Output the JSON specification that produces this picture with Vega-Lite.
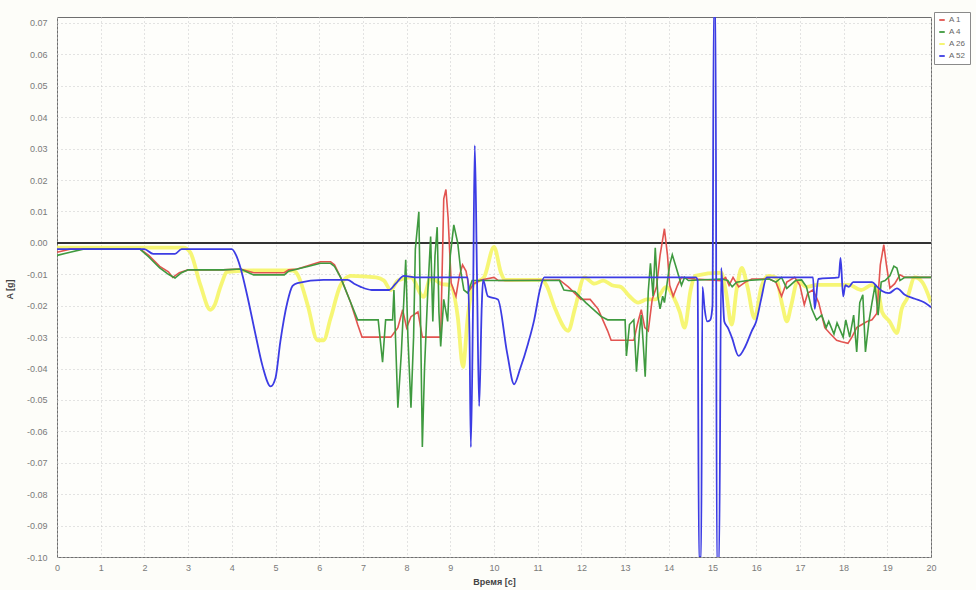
{
"$schema": "https://vega.github.io/schema/vega-lite/v6.json",
"width": 874, "height": 540,
"autosize": {"type": "none"},
"padding": {"left": 57, "top": 17, "right": 45, "bottom": 33},
"background": "#fdfdf9",
"config": {"view": {"stroke": "#6e6e6e", "strokeWidth": 1, "fill": "#fefefb"}, "font": "Liberation Sans"},
"data": {"values": [
{"s":"A 52","t":0,"a":-0.002},{"s":"A 52","t":2.0,"a":-0.002},{"s":"A 52","t":2.2,"a":-0.0035},{"s":"A 52","t":2.7,"a":-0.0035},{"s":"A 52","t":2.85,"a":-0.002},{"s":"A 52","t":4.0,"a":-0.002},{"s":"A 52","t":4.1,"a":-0.004},{"s":"A 52","t":4.2,"a":-0.008},{"s":"A 52","t":4.35,"a":-0.0166},{"s":"A 52","t":4.54,"a":-0.029},{"s":"A 52","t":4.7,"a":-0.039},{"s":"A 52","t":4.89,"a":-0.0457},{"s":"A 52","t":5.0,"a":-0.043},{"s":"A 52","t":5.11,"a":-0.0315},{"s":"A 52","t":5.27,"a":-0.019},{"s":"A 52","t":5.39,"a":-0.0137},{"s":"A 52","t":5.5,"a":-0.0128},{"s":"A 52","t":6.1,"a":-0.0118},{"s":"A 52","t":6.65,"a":-0.0118},{"s":"A 52","t":6.8,"a":-0.013},{"s":"A 52","t":6.95,"a":-0.014},{"s":"A 52","t":7.2,"a":-0.015},{"s":"A 52","t":7.6,"a":-0.015},{"s":"A 52","t":7.75,"a":-0.013},{"s":"A 52","t":7.94,"a":-0.0105},{"s":"A 52","t":8.2,"a":-0.011},{"s":"A 52","t":9.4,"a":-0.011},{"s":"A 52","t":9.44,"a":-0.03},{"s":"A 52","t":9.47,"a":-0.065},{"s":"A 52","t":9.52,"a":-0.02},{"s":"A 52","t":9.56,"a":0.031},{"s":"A 52","t":9.61,"a":-0.01},{"s":"A 52","t":9.66,"a":-0.052},{"s":"A 52","t":9.72,"a":-0.02},{"s":"A 52","t":9.75,"a":-0.0118},{"s":"A 52","t":9.86,"a":-0.017},{"s":"A 52","t":10.09,"a":-0.018},{"s":"A 52","t":10.3,"a":-0.035},{"s":"A 52","t":10.46,"a":-0.045},{"s":"A 52","t":10.6,"a":-0.04},{"s":"A 52","t":10.78,"a":-0.032},{"s":"A 52","t":10.92,"a":-0.0245},{"s":"A 52","t":11.05,"a":-0.015},{"s":"A 52","t":11.15,"a":-0.011},{"s":"A 52","t":14.62,"a":-0.011},{"s":"A 52","t":14.66,"a":-0.012},{"s":"A 52","t":14.69,"a":-0.1},{"s":"A 52","t":14.74,"a":-0.1},{"s":"A 52","t":14.77,"a":-0.014},{"s":"A 52","t":14.82,"a":-0.021},{"s":"A 52","t":14.88,"a":-0.025},{"s":"A 52","t":14.95,"a":-0.0245},{"s":"A 52","t":15.0,"a":-0.02},{"s":"A 52","t":15.03,"a":0.075},{"s":"A 52","t":15.07,"a":0.075},{"s":"A 52","t":15.1,"a":-0.102},{"s":"A 52","t":15.15,"a":-0.102},{"s":"A 52","t":15.2,"a":-0.008},{"s":"A 52","t":15.27,"a":-0.025},{"s":"A 52","t":15.35,"a":-0.027},{"s":"A 52","t":15.44,"a":-0.03},{"s":"A 52","t":15.6,"a":-0.036},{"s":"A 52","t":15.75,"a":-0.033},{"s":"A 52","t":15.9,"a":-0.028},{"s":"A 52","t":16.0,"a":-0.025},{"s":"A 52","t":16.12,"a":-0.0175},{"s":"A 52","t":16.24,"a":-0.011},{"s":"A 52","t":17.3,"a":-0.011},{"s":"A 52","t":17.34,"a":-0.021},{"s":"A 52","t":17.42,"a":-0.0115},{"s":"A 52","t":17.89,"a":-0.011},{"s":"A 52","t":17.93,"a":-0.0048},{"s":"A 52","t":17.99,"a":-0.017},{"s":"A 52","t":18.04,"a":-0.0135},{"s":"A 52","t":18.12,"a":-0.014},{"s":"A 52","t":18.22,"a":-0.0125},{"s":"A 52","t":18.65,"a":-0.0125},{"s":"A 52","t":18.77,"a":-0.014},{"s":"A 52","t":18.88,"a":-0.0153},{"s":"A 52","t":19.04,"a":-0.016},{"s":"A 52","t":19.22,"a":-0.0145},{"s":"A 52","t":19.4,"a":-0.0165},{"s":"A 52","t":19.63,"a":-0.0178},{"s":"A 52","t":19.85,"a":-0.019},{"s":"A 52","t":20.0,"a":-0.0205},
{"s":"A 1","t":0,"a":-0.003},{"s":"A 1","t":0.3,"a":-0.002},{"s":"A 1","t":1.9,"a":-0.002},{"s":"A 1","t":2.1,"a":-0.004},{"s":"A 1","t":2.35,"a":-0.0075},{"s":"A 1","t":2.55,"a":-0.0092},{"s":"A 1","t":2.65,"a":-0.011},{"s":"A 1","t":2.8,"a":-0.0095},{"s":"A 1","t":3.0,"a":-0.0086},{"s":"A 1","t":3.8,"a":-0.0086},{"s":"A 1","t":4.2,"a":-0.0083},{"s":"A 1","t":4.5,"a":-0.0095},{"s":"A 1","t":5.2,"a":-0.0095},{"s":"A 1","t":5.3,"a":-0.0086},{"s":"A 1","t":5.5,"a":-0.0083},{"s":"A 1","t":5.74,"a":-0.0073},{"s":"A 1","t":6.03,"a":-0.006},{"s":"A 1","t":6.26,"a":-0.006},{"s":"A 1","t":6.35,"a":-0.007},{"s":"A 1","t":6.49,"a":-0.011},{"s":"A 1","t":6.72,"a":-0.019},{"s":"A 1","t":6.88,"a":-0.026},{"s":"A 1","t":6.98,"a":-0.03},{"s":"A 1","t":7.64,"a":-0.03},{"s":"A 1","t":7.8,"a":-0.027},{"s":"A 1","t":7.91,"a":-0.0213},{"s":"A 1","t":8.0,"a":-0.027},{"s":"A 1","t":8.1,"a":-0.0235},{"s":"A 1","t":8.26,"a":-0.022},{"s":"A 1","t":8.36,"a":-0.03},{"s":"A 1","t":8.78,"a":-0.03},{"s":"A 1","t":8.85,"a":0.014},{"s":"A 1","t":8.9,"a":0.017},{"s":"A 1","t":8.95,"a":0.008},{"s":"A 1","t":9.02,"a":-0.0128},{"s":"A 1","t":9.13,"a":-0.017},{"s":"A 1","t":9.2,"a":-0.011},{"s":"A 1","t":9.28,"a":-0.007},{"s":"A 1","t":9.36,"a":-0.009},{"s":"A 1","t":9.44,"a":-0.015},{"s":"A 1","t":9.54,"a":-0.013},{"s":"A 1","t":9.7,"a":-0.0118},{"s":"A 1","t":10.0,"a":-0.011},{"s":"A 1","t":10.1,"a":-0.012},{"s":"A 1","t":11.5,"a":-0.0118},{"s":"A 1","t":11.7,"a":-0.014},{"s":"A 1","t":11.99,"a":-0.018},{"s":"A 1","t":12.2,"a":-0.018},{"s":"A 1","t":12.38,"a":-0.021},{"s":"A 1","t":12.6,"a":-0.028},{"s":"A 1","t":12.68,"a":-0.031},{"s":"A 1","t":13.2,"a":-0.031},{"s":"A 1","t":13.28,"a":-0.026},{"s":"A 1","t":13.37,"a":-0.0213},{"s":"A 1","t":13.45,"a":-0.027},{"s":"A 1","t":13.53,"a":-0.028},{"s":"A 1","t":13.62,"a":-0.018},{"s":"A 1","t":13.72,"a":-0.014},{"s":"A 1","t":13.8,"a":-0.004},{"s":"A 1","t":13.9,"a":0.0045},{"s":"A 1","t":13.97,"a":-0.004},{"s":"A 1","t":14.02,"a":-0.0135},{"s":"A 1","t":14.1,"a":-0.017},{"s":"A 1","t":14.2,"a":-0.0135},{"s":"A 1","t":14.29,"a":-0.011},{"s":"A 1","t":14.6,"a":-0.0115},{"s":"A 1","t":15.2,"a":-0.012},{"s":"A 1","t":15.3,"a":-0.011},{"s":"A 1","t":15.38,"a":-0.0135},{"s":"A 1","t":15.47,"a":-0.011},{"s":"A 1","t":15.6,"a":-0.014},{"s":"A 1","t":15.75,"a":-0.0125},{"s":"A 1","t":15.9,"a":-0.0115},{"s":"A 1","t":16.3,"a":-0.0115},{"s":"A 1","t":16.45,"a":-0.0125},{"s":"A 1","t":16.58,"a":-0.017},{"s":"A 1","t":16.7,"a":-0.0125},{"s":"A 1","t":16.88,"a":-0.011},{"s":"A 1","t":17.0,"a":-0.0135},{"s":"A 1","t":17.1,"a":-0.0197},{"s":"A 1","t":17.18,"a":-0.016},{"s":"A 1","t":17.3,"a":-0.015},{"s":"A 1","t":17.43,"a":-0.019},{"s":"A 1","t":17.57,"a":-0.027},{"s":"A 1","t":17.7,"a":-0.029},{"s":"A 1","t":17.84,"a":-0.031},{"s":"A 1","t":17.95,"a":-0.0315},{"s":"A 1","t":18.1,"a":-0.032},{"s":"A 1","t":18.19,"a":-0.03},{"s":"A 1","t":18.3,"a":-0.027},{"s":"A 1","t":18.42,"a":-0.026},{"s":"A 1","t":18.54,"a":-0.025},{"s":"A 1","t":18.65,"a":-0.0245},{"s":"A 1","t":18.76,"a":-0.0225},{"s":"A 1","t":18.84,"a":-0.007},{"s":"A 1","t":18.92,"a":-0.0006},{"s":"A 1","t":18.98,"a":-0.007},{"s":"A 1","t":19.06,"a":-0.0144},{"s":"A 1","t":19.17,"a":-0.013},{"s":"A 1","t":19.29,"a":-0.0102},{"s":"A 1","t":19.4,"a":-0.011},{"s":"A 1","t":20.0,"a":-0.011},
{"s":"A 4","t":0,"a":-0.004},{"s":"A 4","t":0.3,"a":-0.003},{"s":"A 4","t":0.6,"a":-0.002},{"s":"A 4","t":1.9,"a":-0.002},{"s":"A 4","t":2.1,"a":-0.0045},{"s":"A 4","t":2.35,"a":-0.008},{"s":"A 4","t":2.55,"a":-0.01},{"s":"A 4","t":2.7,"a":-0.0112},{"s":"A 4","t":2.85,"a":-0.0095},{"s":"A 4","t":3.0,"a":-0.0086},{"s":"A 4","t":3.8,"a":-0.0086},{"s":"A 4","t":4.2,"a":-0.0083},{"s":"A 4","t":4.5,"a":-0.0102},{"s":"A 4","t":5.2,"a":-0.0102},{"s":"A 4","t":5.3,"a":-0.009},{"s":"A 4","t":5.5,"a":-0.0083},{"s":"A 4","t":5.74,"a":-0.0075},{"s":"A 4","t":6.03,"a":-0.0065},{"s":"A 4","t":6.26,"a":-0.0065},{"s":"A 4","t":6.35,"a":-0.0075},{"s":"A 4","t":6.49,"a":-0.011},{"s":"A 4","t":6.72,"a":-0.019},{"s":"A 4","t":6.88,"a":-0.0245},{"s":"A 4","t":7.35,"a":-0.0245},{"s":"A 4","t":7.45,"a":-0.038},{"s":"A 4","t":7.52,"a":-0.0245},{"s":"A 4","t":7.68,"a":-0.0245},{"s":"A 4","t":7.71,"a":-0.015},{"s":"A 4","t":7.8,"a":-0.0525},{"s":"A 4","t":7.88,"a":-0.035},{"s":"A 4","t":7.98,"a":-0.0054},{"s":"A 4","t":8.03,"a":-0.03},{"s":"A 4","t":8.1,"a":-0.0525},{"s":"A 4","t":8.16,"a":-0.03},{"s":"A 4","t":8.2,"a":-0.002},{"s":"A 4","t":8.28,"a":0.0099},{"s":"A 4","t":8.32,"a":-0.025},{"s":"A 4","t":8.36,"a":-0.065},{"s":"A 4","t":8.41,"a":-0.04},{"s":"A 4","t":8.48,"a":-0.017},{"s":"A 4","t":8.55,"a":0.002},{"s":"A 4","t":8.6,"a":-0.025},{"s":"A 4","t":8.65,"a":-0.004},{"s":"A 4","t":8.7,"a":0.005},{"s":"A 4","t":8.74,"a":-0.022},{"s":"A 4","t":8.78,"a":-0.033},{"s":"A 4","t":8.85,"a":-0.018},{"s":"A 4","t":8.94,"a":-0.025},{"s":"A 4","t":9.0,"a":-0.004},{"s":"A 4","t":9.08,"a":0.0057},{"s":"A 4","t":9.17,"a":0.0},{"s":"A 4","t":9.24,"a":-0.009},{"s":"A 4","t":9.31,"a":-0.015},{"s":"A 4","t":9.4,"a":-0.016},{"s":"A 4","t":9.5,"a":-0.012},{"s":"A 4","t":11.5,"a":-0.012},{"s":"A 4","t":11.6,"a":-0.015},{"s":"A 4","t":11.85,"a":-0.0155},{"s":"A 4","t":12.1,"a":-0.019},{"s":"A 4","t":12.45,"a":-0.0234},{"s":"A 4","t":12.6,"a":-0.0245},{"s":"A 4","t":13.0,"a":-0.0245},{"s":"A 4","t":13.03,"a":-0.036},{"s":"A 4","t":13.1,"a":-0.026},{"s":"A 4","t":13.2,"a":-0.0245},{"s":"A 4","t":13.26,"a":-0.041},{"s":"A 4","t":13.33,"a":-0.028},{"s":"A 4","t":13.37,"a":-0.023},{"s":"A 4","t":13.41,"a":-0.031},{"s":"A 4","t":13.46,"a":-0.0426},{"s":"A 4","t":13.53,"a":-0.0155},{"s":"A 4","t":13.58,"a":-0.0065},{"s":"A 4","t":13.64,"a":-0.017},{"s":"A 4","t":13.69,"a":-0.0016},{"s":"A 4","t":13.75,"a":-0.017},{"s":"A 4","t":13.8,"a":-0.021},{"s":"A 4","t":13.86,"a":-0.017},{"s":"A 4","t":13.9,"a":-0.019},{"s":"A 4","t":13.96,"a":-0.013},{"s":"A 4","t":14.02,"a":-0.007},{"s":"A 4","t":14.08,"a":-0.0038},{"s":"A 4","t":14.15,"a":-0.007},{"s":"A 4","t":14.29,"a":-0.0135},{"s":"A 4","t":14.36,"a":-0.011},{"s":"A 4","t":14.45,"a":-0.012},{"s":"A 4","t":15.2,"a":-0.0115},{"s":"A 4","t":15.35,"a":-0.012},{"s":"A 4","t":15.45,"a":-0.014},{"s":"A 4","t":15.55,"a":-0.0125},{"s":"A 4","t":15.8,"a":-0.012},{"s":"A 4","t":16.3,"a":-0.0115},{"s":"A 4","t":16.45,"a":-0.0125},{"s":"A 4","t":16.58,"a":-0.011},{"s":"A 4","t":16.7,"a":-0.0145},{"s":"A 4","t":16.9,"a":-0.012},{"s":"A 4","t":17.04,"a":-0.0118},{"s":"A 4","t":17.15,"a":-0.014},{"s":"A 4","t":17.27,"a":-0.021},{"s":"A 4","t":17.38,"a":-0.0245},{"s":"A 4","t":17.5,"a":-0.023},{"s":"A 4","t":17.6,"a":-0.027},{"s":"A 4","t":17.66,"a":-0.025},{"s":"A 4","t":17.78,"a":-0.029},{"s":"A 4","t":17.85,"a":-0.0255},{"s":"A 4","t":17.99,"a":-0.03},{"s":"A 4","t":18.05,"a":-0.0245},{"s":"A 4","t":18.14,"a":-0.03},{"s":"A 4","t":18.23,"a":-0.023},{"s":"A 4","t":18.3,"a":-0.0347},{"s":"A 4","t":18.37,"a":-0.019},{"s":"A 4","t":18.44,"a":-0.0165},{"s":"A 4","t":18.5,"a":-0.0347},{"s":"A 4","t":18.58,"a":-0.025},{"s":"A 4","t":18.65,"a":-0.019},{"s":"A 4","t":18.72,"a":-0.0135},{"s":"A 4","t":18.79,"a":-0.023},{"s":"A 4","t":18.86,"a":-0.0125},{"s":"A 4","t":18.95,"a":-0.012},{"s":"A 4","t":19.06,"a":-0.0105},{"s":"A 4","t":19.15,"a":-0.0074},{"s":"A 4","t":19.22,"a":-0.008},{"s":"A 4","t":19.29,"a":-0.012},{"s":"A 4","t":19.4,"a":-0.011},{"s":"A 4","t":20.0,"a":-0.011},
{"s":"A 26","t":0,"a":-0.0015},{"s":"A 26","t":2.9,"a":-0.0015},{"s":"A 26","t":3.05,"a":-0.003},{"s":"A 26","t":3.28,"a":-0.0134},{"s":"A 26","t":3.51,"a":-0.0213},{"s":"A 26","t":3.6,"a":-0.02},{"s":"A 26","t":3.74,"a":-0.014},{"s":"A 26","t":3.9,"a":-0.0092},{"s":"A 26","t":4.5,"a":-0.0088},{"s":"A 26","t":5.4,"a":-0.0088},{"s":"A 26","t":5.5,"a":-0.01},{"s":"A 26","t":5.74,"a":-0.02},{"s":"A 26","t":5.96,"a":-0.031},{"s":"A 26","t":6.1,"a":-0.031},{"s":"A 26","t":6.26,"a":-0.024},{"s":"A 26","t":6.49,"a":-0.0134},{"s":"A 26","t":6.72,"a":-0.0105},{"s":"A 26","t":7.3,"a":-0.011},{"s":"A 26","t":7.48,"a":-0.012},{"s":"A 26","t":7.64,"a":-0.015},{"s":"A 26","t":7.8,"a":-0.012},{"s":"A 26","t":8.1,"a":-0.011},{"s":"A 26","t":8.39,"a":-0.0172},{"s":"A 26","t":8.55,"a":-0.011},{"s":"A 26","t":8.78,"a":-0.013},{"s":"A 26","t":9.0,"a":-0.0135},{"s":"A 26","t":9.17,"a":-0.0235},{"s":"A 26","t":9.29,"a":-0.0395},{"s":"A 26","t":9.4,"a":-0.0235},{"s":"A 26","t":9.54,"a":-0.013},{"s":"A 26","t":9.77,"a":-0.011},{"s":"A 26","t":10.0,"a":-0.0013},{"s":"A 26","t":10.16,"a":-0.0095},{"s":"A 26","t":10.25,"a":-0.0118},{"s":"A 26","t":11.1,"a":-0.0118},{"s":"A 26","t":11.2,"a":-0.0135},{"s":"A 26","t":11.4,"a":-0.021},{"s":"A 26","t":11.7,"a":-0.028},{"s":"A 26","t":11.85,"a":-0.021},{"s":"A 26","t":12.07,"a":-0.011},{"s":"A 26","t":12.3,"a":-0.013},{"s":"A 26","t":12.5,"a":-0.012},{"s":"A 26","t":12.7,"a":-0.0135},{"s":"A 26","t":12.9,"a":-0.014},{"s":"A 26","t":13.1,"a":-0.017},{"s":"A 26","t":13.3,"a":-0.019},{"s":"A 26","t":13.5,"a":-0.018},{"s":"A 26","t":13.7,"a":-0.018},{"s":"A 26","t":13.94,"a":-0.014},{"s":"A 26","t":14.1,"a":-0.017},{"s":"A 26","t":14.25,"a":-0.022},{"s":"A 26","t":14.36,"a":-0.027},{"s":"A 26","t":14.5,"a":-0.015},{"s":"A 26","t":14.6,"a":-0.0105},{"s":"A 26","t":15.2,"a":-0.0095},{"s":"A 26","t":15.3,"a":-0.015},{"s":"A 26","t":15.44,"a":-0.026},{"s":"A 26","t":15.55,"a":-0.015},{"s":"A 26","t":15.67,"a":-0.008},{"s":"A 26","t":15.8,"a":-0.014},{"s":"A 26","t":15.96,"a":-0.024},{"s":"A 26","t":16.12,"a":-0.014},{"s":"A 26","t":16.28,"a":-0.0105},{"s":"A 26","t":16.45,"a":-0.011},{"s":"A 26","t":16.6,"a":-0.02},{"s":"A 26","t":16.7,"a":-0.025},{"s":"A 26","t":16.8,"a":-0.02},{"s":"A 26","t":16.95,"a":-0.012},{"s":"A 26","t":17.15,"a":-0.014},{"s":"A 26","t":17.4,"a":-0.0134},{"s":"A 26","t":17.8,"a":-0.0134},{"s":"A 26","t":18.12,"a":-0.0134},{"s":"A 26","t":18.4,"a":-0.015},{"s":"A 26","t":18.65,"a":-0.0134},{"s":"A 26","t":18.8,"a":-0.016},{"s":"A 26","t":18.88,"a":-0.022},{"s":"A 26","t":19.05,"a":-0.025},{"s":"A 26","t":19.22,"a":-0.0287},{"s":"A 26","t":19.33,"a":-0.021},{"s":"A 26","t":19.45,"a":-0.0178},{"s":"A 26","t":19.63,"a":-0.011},{"s":"A 26","t":19.8,"a":-0.0125},{"s":"A 26","t":20.0,"a":-0.019}
]},
"encoding": {
  "x": {"field": "t", "type": "quantitative", "scale": {"domain": [0, 20], "nice": false, "zero": false},
        "axis": {"title": "Время [c]", "values": [0,1,2,3,4,5,6,7,8,9,10,11,12,13,14,15,16,17,18,19,20], "domain": false, "ticks": false,
                 "labelPadding": 6, "labelFontSize": 9, "labelColor": "#7a7a7a", "labelFlush": false,
                 "grid": true, "gridColor": "#c8c8c8", "gridDash": [1, 3], "gridWidth": 1,
                 "titleFontSize": 9, "titleFontWeight": "bold", "titleColor": "#444", "titleX": 437, "titleY": 20, "titleBaseline": "top"}},
  "y": {"field": "a", "type": "quantitative", "scale": {"domain": [-0.1, 0.0719], "nice": false, "zero": false},
        "axis": {"title": "A [g]", "values": [-0.1,-0.09,-0.08,-0.07,-0.06,-0.05,-0.04,-0.03,-0.02,-0.01,0,0.01,0.02,0.03,0.04,0.05,0.06,0.07],
                 "labelExpr": "replace(format(datum.value, '.2f'), '\u2212', '-')", "domain": false, "ticks": false,
                 "labelPadding": 10, "labelFontSize": 9, "labelColor": "#7a7a7a",
                 "grid": true, "gridColor": "#c8c8c8", "gridDash": [1, 3], "gridWidth": 1,
                 "titleFontSize": 9, "titleFontWeight": "bold", "titleColor": "#444", "titleX": -43, "titleY": 272, "titleAngle": 270}},
  "color": {"field": "s", "type": "nominal",
            "scale": {"domain": ["A 1", "A 4", "A 26", "A 52"], "range": ["#e25450", "#3f9a3f", "#f5f566", "#3c3ce4"]},
            "legend": {"title": null, "orient": "none", "legendX": 877, "legendY": -5, "fillColor": "#ffffff", "strokeColor": "#8a8a8a",
                       "padding": 4, "symbolType": "stroke", "symbolSize": 30, "symbolStrokeWidth": 2, "labelFontSize": 8,
                       "labelColor": "#666", "rowPadding": 4, "labelOffset": 3}}
},
"layer": [
  {"mark": {"type": "rule", "color": "#333333", "strokeWidth": 1.5}, "encoding": {"y": {"datum": 0}, "color": {"value": "#333333"}, "x": {"value": 0}, "x2": {"value": 874}}},
  {"transform": [{"filter": "datum.s === 'A 26'"}], "mark": {"type": "line", "strokeWidth": 3.8, "clip": true, "opacity": 0.9, "interpolate": "monotone"}},
  {"transform": [{"filter": "datum.s === 'A 1'"}], "mark": {"type": "line", "strokeWidth": 1.6, "clip": true}},
  {"transform": [{"filter": "datum.s === 'A 4'"}], "mark": {"type": "line", "strokeWidth": 1.6, "clip": true}},
  {"transform": [{"filter": "datum.s === 'A 52'"}], "mark": {"type": "line", "strokeWidth": 1.8, "clip": true, "interpolate": "monotone"}}
]
}
